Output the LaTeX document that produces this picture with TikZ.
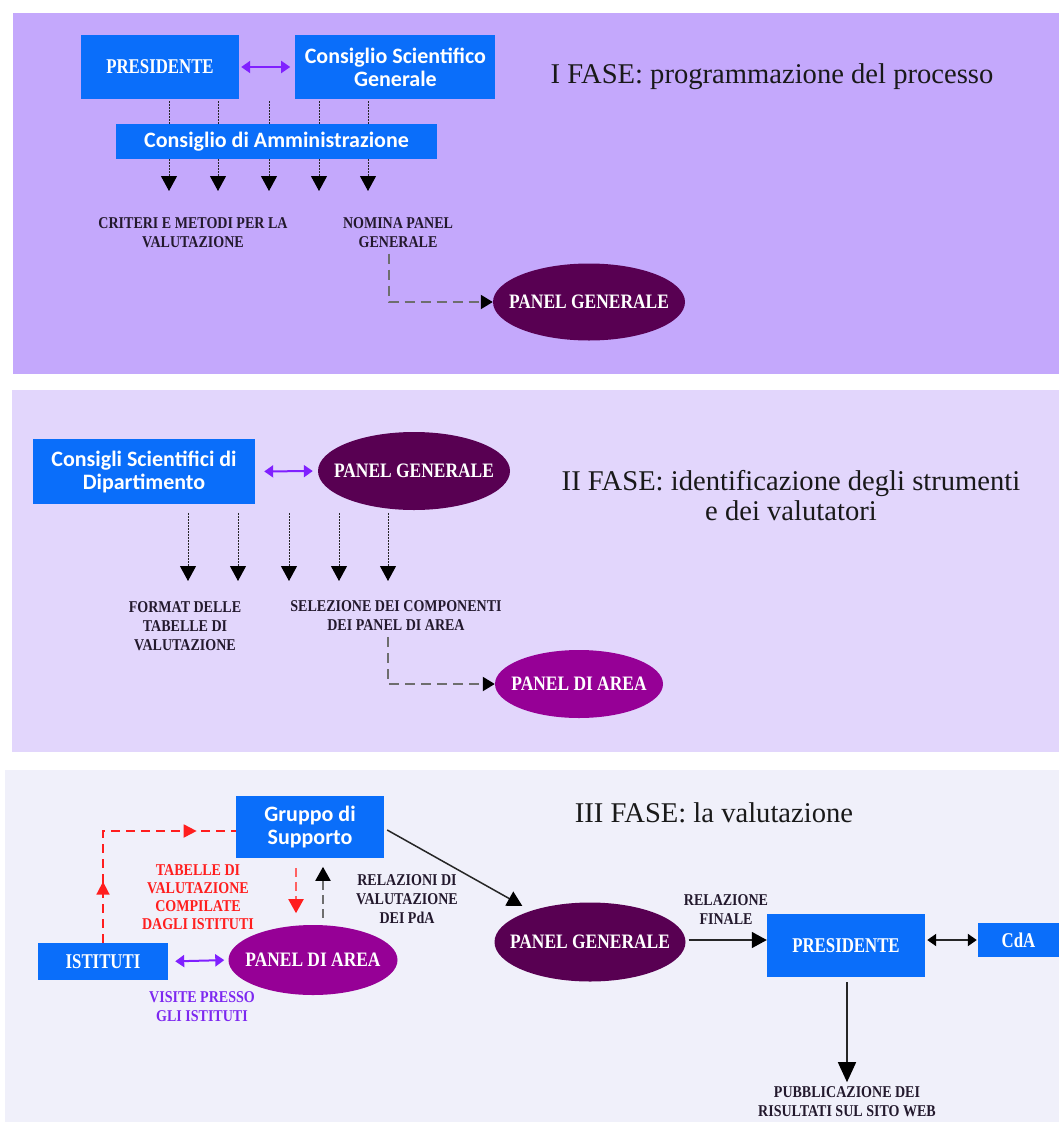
\documentclass[tikz,border=0pt]{standalone}
\usepackage{fontspec}
\setmainfont{Liberation Serif}
\newfontfamily\capsfont[FakeStretch=0.85]{Liberation Serif}
\newfontfamily\boxcapsfont[FakeStretch=0.8]{Liberation Serif}
\newfontfamily\boxfont{Carlito}
\usepackage{tikz}
\usetikzlibrary{shapes.geometric, arrows.meta, positioning, calc, decorations.markings}

\definecolor{boxblue}{RGB}{10,110,250}
\definecolor{genpurple}{RGB}{88,0,82}
\definecolor{areapurple}{RGB}{150,0,150}
\definecolor{violetarr}{RGB}{128,32,255}
\definecolor{faseA}{RGB}{196,168,252}
\definecolor{faseB}{RGB}{226,214,252}
\definecolor{faseC}{RGB}{240,240,250}
\definecolor{redline}{RGB}{255,30,30}
\definecolor{visitetext}{RGB}{125,40,240}
\definecolor{dashgray}{RGB}{110,110,110}
\definecolor{labeltext}{RGB}{35,25,45}

\begin{document}
\begin{tikzpicture}[
    x=1pt, y=-1pt,
    node distance=20pt and 56pt,
    bluebox/.style={
      rectangle, fill=boxblue, text=white,
      inner sep=0pt, align=center,
      font=\boxcapsfont\bfseries\fontsize{21}{23}\selectfont
    },
    sansbox/.style={
      bluebox,
      font=\boxfont\bfseries\fontsize{22}{23}\selectfont
    },
    genell/.style={
      ellipse, fill=genpurple, text=white,
      inner xsep=-12.6pt, inner ysep=0pt,
      font=\capsfont\bfseries\fontsize{20.5}{22}\selectfont
    },
    areaell/.style={genell, fill=areapurple, inner xsep=-8.7pt},
    lbl/.style={
      align=center, text=labeltext, inner sep=0pt,
      font=\capsfont\bfseries\fontsize{16.5}{19}\selectfont
    },
    fasetitle/.style={
      align=center, text=black!90, inner sep=0pt,
      font=\fontsize{28.6}{30}\selectfont
    },
    dotline/.style={line width=1pt, dash pattern=on 1.5pt off 1.5pt, color=black!85},
    dotarr/.style={dotline, -{Triangle[width=16pt,length=15pt,black]}},
    dasharr/.style={line width=2pt, color=dashgray, dash pattern=on 10pt off 6pt,
      -{Triangle[width=14pt,length=12pt,black]}},
    biarr/.style={line width=2pt, color=violetarr,
      {Triangle[width=12pt,length=9pt]}-{Triangle[width=12pt,length=9pt]}},
    arr/.style={line width=1.5pt, color=black!85, -{Triangle[width=16pt,length=15pt,black]}}
  ]
    \useasboundingbox (0,0) rectangle (1059,1122);

    % fasce di sfondo
    \fill[faseA] (13,13) rectangle (1059,374);
    \fill[faseB] (12,390) rectangle (1059,752);
    \fill[faseC] (5,770) rectangle (1059,1122);

    % I FASE
    \node[bluebox, minimum width=158pt, minimum height=64pt] (pres1) at (160,67) {PRESIDENTE};
    \node[sansbox, minimum width=200pt, minimum height=64pt, right=56pt of pres1] (csg)
      {Consiglio Scientifico\\Generale};
    \node[sansbox, minimum width=321pt, minimum height=35pt] (cda) at (276.5,141.5)
      {Consiglio di Amministrazione};
    \node[fasetitle, anchor=base] (title1) at (772,83) {I FASE: programmazione del processo};

    \draw[biarr, shorten <=2pt, shorten >=5pt] (pres1.east) -- (csg.west);
    \foreach \x [count=\i] in {169,218,269,319,368}{
      \coordinate (crtop\i) at (\x,101);
      \coordinate (crtip\i) at (\x,191);
      \draw[dotline] (crtop\i) -- (crtop\i |- cda.north);
      \draw[dotarr] (crtop\i |- cda.south) -- (crtip\i);
    }

    \node[lbl] (crit) at (193,232.5) {CRITERI E METODI PER LA\\VALUTAZIONE};
    \node[lbl] (nomina) at (398,232.5) {NOMINA PANEL\\GENERALE};
    \node[genell, minimum width=192pt, minimum height=77pt] (pg1) at (589,302) {PANEL GENERALE};
    \draw[dasharr] ($(nomina.south)+(-9,6)$) |- (pg1.west);

    % II FASE
    \node[sansbox, minimum width=222pt, minimum height=65pt] (csd) at (144,471.5)
      {Consigli Scientifici di\\Dipartimento};
    \node[genell, minimum width=192pt, minimum height=78pt] (pg2) at (414,471) {PANEL GENERALE};
    \node[fasetitle] (title2) at (791,496) {II FASE: identificazione degli strumenti\\e dei valutatori};

    \draw[biarr, shorten <=9pt, shorten >=5pt] (csd.east) -- (pg2.west);
    \foreach \x [count=\i] in {188,238,289,339,388}{
      \coordinate (fmtop\i) at (\x,513);
      \coordinate (fmtip\i) at (\x,581);
      \draw[dotarr] (fmtop\i) -- (fmtip\i);
    }

    \node[lbl] (format) at (185,626) {FORMAT DELLE\\TABELLE DI\\VALUTAZIONE};
    \node[lbl] (selez) at (396,616) {SELEZIONE DEI COMPONENTI\\DEI PANEL DI AREA};
    \node[areaell, minimum width=168pt, minimum height=68pt] (pa2) at (579,684) {PANEL DI AREA};
    \draw[dasharr] ($(selez.south)+(-8,6)$) |- (pa2.west);

    % III FASE
    \node[fasetitle, anchor=base] (title3) at (714,822) {III FASE: la valutazione};
    \node[sansbox, minimum width=148pt, minimum height=62pt] (gs) at (310,827) {Gruppo di\\Supporto};
    \node[bluebox, minimum width=130pt, minimum height=37pt] (ist) at (103,961.5) {ISTITUTI};
    \node[areaell, minimum width=169pt, minimum height=70pt] (pa3) at (313,960) {PANEL DI AREA};
    \node[genell, minimum width=191pt, minimum height=79pt] (pg3) at (590,942) {PANEL GENERALE};
    \node[bluebox, minimum width=158pt, minimum height=63pt] (pres3) at (846,945.5) {PRESIDENTE};
    \node[bluebox, minimum width=81pt, minimum height=34pt] (cda3) at (1018.5,940) {CdA};

    \draw[redline, line width=1.8pt, dash pattern=on 9pt off 6pt,
      postaction={decorate},
      decoration={markings,
        mark=at position 0.25 with {\arrow{Triangle[width=13pt,length=13pt]}},
        mark=at position 0.84 with {\arrow{Triangle[width=13pt,length=13pt]}}}]
      (ist.north) |- ($(gs.west)+(0,4)$);
    \draw[redline!70, line width=2pt, dash pattern=on 9pt off 5pt,
      -{Triangle[width=15pt,length=14pt,redline]}]
      ($(gs.south)+(-14,10)$) -- ++(0,45);
    \draw[dashgray, line width=2pt, dash pattern=on 9pt off 5pt,
      -{Triangle[width=15pt,length=14pt,black]}]
      ($(pa3.north)+(10,-7)$) -- ++(0,-51);
    \draw[arr] ($(gs.east)+(3,3)$) -- ($(pg3.north west)+(0,-8)$);
    \draw[arr] (pg3.east) ++(3,-2) coordinate (pgout) -- (pgout -| pres3.west);
    \draw[line width=2pt, color=black!85,
      {Triangle[width=12pt,length=9pt,black]}-{Triangle[width=12pt,length=9pt,black]},
      shorten <=2pt, shorten >=1pt] (pres3.east |- cda3.west) -- (cda3.west);
    \draw[biarr, shorten <=7pt, shorten >=4pt] (ist.east) -- (pa3.west);

    \node[lbl, text=redline, font=\capsfont\bfseries\fontsize{16.5}{18}\selectfont] (tabelle) at (198,897)
      {TABELLE DI\\VALUTAZIONE\\COMPILATE\\DAGLI ISTITUTI};
    \node[lbl] (relpda) at (407,899) {RELAZIONI DI\\VALUTAZIONE\\DEI PdA};
    \node[lbl] (relfin) at (726,909.5) {RELAZIONE\\FINALE};
    \node[lbl, text=visitetext] (visite) at (202,1006.5) {VISITE PRESSO\\GLI ISTITUTI};
    \node[lbl] (pubbl) at (847,1102) {PUBBLICAZIONE DEI\\RISULTATI SUL SITO WEB};
    \draw[arr, -{Triangle[width=18pt,length=20pt,black]}] ($(pres3.south)+(1,5)$) -- ++(0,100);
\end{tikzpicture}
\end{document}
